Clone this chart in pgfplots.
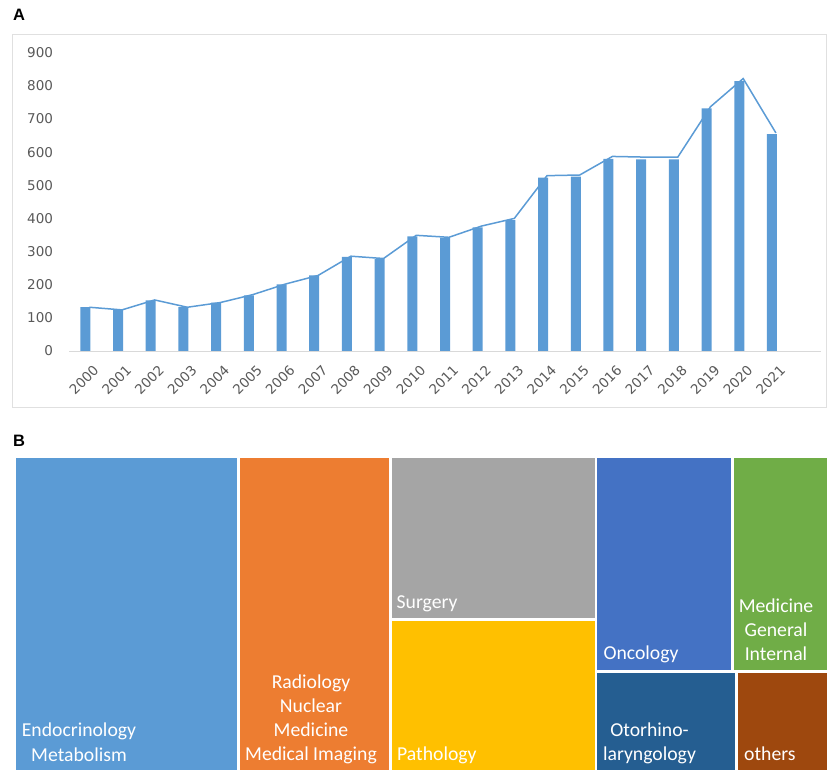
\documentclass[border=0pt]{standalone}
\usepackage{pgfplots}
\pgfplotsset{compat=1.18}
\usepackage{fontspec}
\setmainfont{Carlito}
\newfontfamily\tickfont{DejaVu Sans}
\newfontfamily\labfont{Liberation Sans}
\definecolor{barblue}{HTML}{5B9BD5}
\definecolor{framegray}{HTML}{E0E0E0}
\definecolor{axisgray}{HTML}{D9D9D9}
\definecolor{tickgray}{HTML}{595959}
\definecolor{cOrange}{HTML}{ED7D31}
\definecolor{cGray}{HTML}{A5A5A5}
\definecolor{cGold}{HTML}{FFC000}
\definecolor{cBlue}{HTML}{4472C4}
\definecolor{cGreen}{HTML}{70AD47}
\definecolor{cNavy}{HTML}{255E91}
\definecolor{cBrown}{HTML}{9E480E}
\begin{document}
\begin{tikzpicture}[x=1pt,y=1pt]
\path[use as bounding box] (0,0) rectangle (827,770);
\draw[color=framegray, line width=0.8pt] (12.5,363) rectangle (826.5,736);
\node[anchor=base west, inner sep=0pt, font=\labfont\bfseries\fontsize{16.5}{18}\selectfont] at (13,749) {A};
\node[anchor=base west, inner sep=0pt, font=\labfont\bfseries\fontsize{16.5}{18}\selectfont] at (13,323) {B};
\begin{axis}[
  at={(69pt,419pt)}, anchor=south west, scale only axis,
  width=752pt, height=298.3pt,
  xmin=1999.5, xmax=2022.5, ymin=0, ymax=900,
  axis x line*=bottom, axis y line*=left,
  y axis line style={draw=none},
  x axis line style={draw=axisgray, line width=0.8pt},
  major tick length=0pt,
  tick label style={font=\tickfont\fontsize{13.5}{16}\selectfont, text=tickgray},
  /pgf/number format/assume math mode=true,
  /pgf/number format/set thousands separator={},
  ytick={0,100,...,900},
  xtick={2000,2001,...,2021},
  yticklabel style={xshift=-12.5pt},
  xticklabel style={rotate=45, anchor=north east, inner sep=0pt, xshift=-4pt, yshift=-14pt},
  clip=false,
]
\addplot[ybar, bar width=10pt, fill=barblue, draw=none] coordinates {
(2000,132) (2001,123) (2002,153) (2003,132) (2004,146) (2005,168) (2006,201) (2007,228)
(2008,284) (2009,277) (2010,346) (2011,341) (2012,373) (2013,395) (2014,523) (2015,526)
(2016,580) (2017,578) (2018,578) (2019,732) (2020,814) (2021,654)};
\addplot[color=barblue, line width=1.5pt] coordinates {
(2000.12,132) (2001.12,124) (2002.12,154) (2003.12,132) (2004.12,146) (2005.12,170) (2006.12,202) (2007.12,228)
(2008.12,286) (2009.12,279) (2010.12,349) (2011.12,343) (2012.12,377) (2013.12,400) (2014.12,529) (2015.12,531)
(2016.12,587) (2017.12,585) (2018.12,585) (2019.12,737) (2020.12,822) (2021.12,658)};
\end{axis}
\begin{axis}[
  at={(0pt,0pt)}, anchor=south west, scale only axis,
  width=827pt, height=770pt,
  xmin=0, xmax=827, ymin=0, ymax=770,
  hide axis, clip=false,
]
\addplot[fill=barblue, draw=none] coordinates {(16,0) (237,0) (237,312) (16,312)} -- cycle;
\addplot[fill=cOrange, draw=none] coordinates {(240,0) (389,0) (389,312) (240,312)} -- cycle;
\addplot[fill=cGray, draw=none] coordinates {(391.5,151.5) (594.5,151.5) (594.5,312) (391.5,312)} -- cycle;
\addplot[fill=cGold, draw=none] coordinates {(391.5,0) (594.5,0) (594.5,149) (391.5,149)} -- cycle;
\addplot[fill=cBlue, draw=none] coordinates {(597,100) (731,100) (731,312) (597,312)} -- cycle;
\addplot[fill=cGreen, draw=none] coordinates {(734,100) (827,100) (827,312) (734,312)} -- cycle;
\addplot[fill=cNavy, draw=none] coordinates {(597,0) (735,0) (735,97) (597,97)} -- cycle;
\addplot[fill=cBrown, draw=none] coordinates {(738,0) (827,0) (827,97) (738,97)} -- cycle;
\begin{scope}[every node/.style={text=white, inner sep=0pt, font=\fontsize{19.7}{22}\selectfont}]
\node[anchor=base] at (axis cs:79,33.3) {Endocrinology};
\node[anchor=base] at (axis cs:79,8.3) {Metabolism};
\node[anchor=base] at (axis cs:311,81.7) {Radiology};
\node[anchor=base] at (axis cs:311,57.7) {Nuclear};
\node[anchor=base] at (axis cs:311,33.3) {Medicine};
\node[anchor=base] at (axis cs:311,9) {Medical Imaging};
\node[anchor=base west] at (axis cs:396.5,161.7) {Surgery};
\node[anchor=base west] at (axis cs:397,9) {Pathology};
\node[anchor=base west] at (axis cs:603.3,110) {Oncology};
\node[anchor=base] at (axis cs:776,157.3) {Medicine};
\node[anchor=base] at (axis cs:776,133.3) {General};
\node[anchor=base] at (axis cs:776,109) {Internal};
\node[anchor=base] at (axis cs:649.5,33.3) {Otorhino-};
\node[anchor=base] at (axis cs:649.5,9) {laryngology};
\node[anchor=base west] at (axis cs:744,9) {others};
\end{scope}
\end{axis}
\end{tikzpicture}
\end{document}
